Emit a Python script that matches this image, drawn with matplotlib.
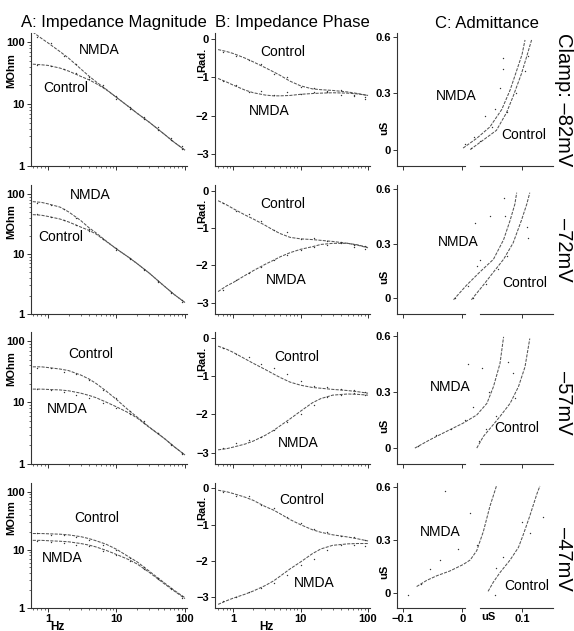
import matplotlib
matplotlib.use("Agg")
import matplotlib.pyplot as plt
import matplotlib.transforms as mtransforms
from matplotlib.ticker import LogLocator, NullFormatter

plt.rcParams["font.family"] = ["Liberation Sans", "DejaVu Sans"]

# frequency grids (Hz)
freq = [0.6, 0.8, 1, 1.5, 2, 3, 4, 5, 7, 10, 15, 20, 30, 50, 70, 100]
freq_pts = [0.7, 1.1, 1.7, 2.6, 4, 6.3, 10, 16, 25, 40, 63, 90]

clamp_labels = ["Clamp: \u201382mV", "\u201372mV", "\u201357mV", "\u201347mV"]

# A: impedance magnitude (MOhm), fitted curves
mag_nmda_82 = [145, 115, 97, 70, 55, 37, 28, 23, 17.4, 12.8, 9.1, 7.1, 5.1, 3.25, 2.4, 1.8]
mag_ctrl_82 = [44, 43, 42, 38, 34, 28, 24.5, 21.5, 17.2, 12.8, 9.1, 7.1, 5.1, 3.25, 2.4, 1.8]
mag_nmda_72 = [74, 72, 68, 60, 50, 36, 27, 22.5, 16.5, 12.1, 8.8, 6.9, 4.8, 2.9, 2.1, 1.55]
mag_ctrl_72 = [45, 44, 42, 38, 34, 28, 24.5, 21.5, 16.3, 12.1, 8.8, 6.9, 4.8, 2.9, 2.1, 1.55]
mag_nmda_57 = [16.5, 16.5, 16.3, 16, 15.5, 14.2, 13, 12, 10.2, 8.5, 6.8, 5.6, 3.95, 2.6, 1.9, 1.4]
mag_ctrl_57 = [38, 38, 37, 35, 33, 28, 24, 20.5, 15.5, 11.2, 7.5, 5.8, 4.0, 2.6, 1.9, 1.4]
mag_nmda_47 = [14.5, 14.5, 14.3, 14, 13.7, 12.8, 12, 11.2, 9.8, 8.3, 6.8, 5.7, 4.1, 2.6, 1.95, 1.45]
mag_ctrl_47 = [19, 19, 18.8, 18.5, 18, 16.8, 15.5, 14.3, 12.5, 10.2, 7.6, 6.2, 4.3, 2.7, 2.0, 1.5]

# A: measured points
mag_nmda_82_pts = [120, 95, 60, 45, 27, 20.5, 12.2, 9.0, 5.7, 4.2, 2.6, 2.1]
mag_ctrl_82_pts = [43, 41, 37, 32, 25, 18.6, 13.3, 8.3, 6.2, 3.8, 2.8, 1.9]
mag_nmda_72_pts = [70, 66, 55, 40, 26, 17.5, 12.5, 8.2, 5.6, 3.6, 2.3, 1.7]
mag_ctrl_72_pts = [46, 41, 36, 30, 24, 18, 11.6, 8.6, 5.3, 3.4, 2.2, 1.6]
mag_nmda_57_pts = [16.3, 15.8, 15.0, 13.4, 11.8, 9.8, 8.2, 6.6, 4.6, 3.2, 2.0, 1.45]
mag_ctrl_57_pts = [37, 36, 31, 29, 23, 16, 11.8, 7.2, 5.0, 3.2, 2.1, 1.5]
mag_nmda_47_pts = [14.2, 13.8, 13.2, 12.2, 11.4, 9.6, 8.0, 6.3, 4.7, 3.1, 2.1, 1.5]
mag_ctrl_47_pts = [19.5, 18.2, 17.6, 16.5, 14.8, 12.3, 9.8, 7.3, 5.1, 3.3, 2.2, 1.6]

# B: impedance phase (rad), fitted curves
ph_nmda_82 = [-1.03, -1.12, -1.2, -1.33, -1.4, -1.46, -1.48, -1.48, -1.47, -1.44, -1.42, -1.41, -1.40, -1.41, -1.43, -1.47]
ph_ctrl_82 = [-0.28, -0.33, -0.38, -0.5, -0.6, -0.75, -0.86, -0.95, -1.1, -1.22, -1.3, -1.32, -1.34, -1.38, -1.42, -1.47]
ph_nmda_72 = [-2.7, -2.55, -2.46, -2.27, -2.14, -1.97, -1.86, -1.77, -1.66, -1.57, -1.5, -1.44, -1.41, -1.41, -1.45, -1.52]
ph_ctrl_72 = [-0.27, -0.38, -0.48, -0.65, -0.76, -0.93, -1.06, -1.15, -1.25, -1.29, -1.31, -1.33, -1.36, -1.41, -1.46, -1.53]
ph_nmda_57 = [-2.93, -2.9, -2.86, -2.78, -2.7, -2.55, -2.42, -2.3, -2.12, -1.92, -1.7, -1.59, -1.5, -1.47, -1.48, -1.5]
ph_ctrl_57 = [-0.22, -0.3, -0.38, -0.55, -0.67, -0.83, -0.95, -1.04, -1.16, -1.24, -1.3, -1.32, -1.35, -1.38, -1.41, -1.45]
ph_nmda_47 = [-3.2, -3.1, -3.03, -2.92, -2.83, -2.68, -2.55, -2.42, -2.22, -2.03, -1.8, -1.67, -1.57, -1.53, -1.52, -1.52]
ph_ctrl_47 = [-0.05, -0.09, -0.14, -0.24, -0.33, -0.5, -0.6, -0.7, -0.86, -1.0, -1.14, -1.21, -1.28, -1.34, -1.39, -1.45]

# B: measured points
ph_nmda_82_pts = [-1.1, -1.2, -1.38, -1.35, -1.45, -1.38, -1.43, -1.38, -1.36, -1.45, -1.48, -1.55]
ph_ctrl_82_pts = [-0.35, -0.45, -0.55, -0.65, -0.92, -1.0, -1.25, -1.27, -1.38, -1.33, -1.45, -1.5]
ph_nmda_72_pts = [-2.65, -2.4, -2.2, -2.05, -1.85, -1.72, -1.6, -1.52, -1.46, -1.38, -1.5, -1.48]
ph_ctrl_72_pts = [-0.33, -0.55, -0.62, -0.82, -1.05, -1.1, -1.3, -1.28, -1.35, -1.4, -1.45, -1.55]
ph_nmda_57_pts = [-2.88, -2.75, -2.68, -2.6, -2.4, -2.2, -2.0, -1.75, -1.55, -1.5, -1.45, -1.42]
ph_ctrl_57_pts = [-0.28, -0.42, -0.5, -0.68, -0.8, -0.95, -1.12, -1.25, -1.3, -1.33, -1.37, -1.5]
ph_nmda_47_pts = [-3.1, -3.0, -2.85, -2.75, -2.6, -2.4, -2.1, -1.95, -1.7, -1.55, -1.55, -1.6]
ph_ctrl_47_pts = [-0.1, -0.2, -0.22, -0.45, -0.55, -0.8, -0.95, -1.12, -1.2, -1.3, -1.35, -1.42]

# C: admittance (uS), conductance G and susceptance B along fitted curves
adm_nmda_82_g = [0.001, 0.024, 0.046, 0.066, 0.080, 0.091, 0.100, 0.105]
adm_nmda_82_b = [0.01, 0.062, 0.122, 0.215, 0.318, 0.421, 0.506, 0.583]
adm_ctrl_82_g = [0.013, 0.035, 0.057, 0.074, 0.085, 0.099, 0.108, 0.116]
adm_ctrl_82_b = [0.002, 0.053, 0.104, 0.198, 0.284, 0.404, 0.497, 0.583]
adm_nmda_72_g = [-0.015, 0.007, 0.029, 0.052, 0.069, 0.080, 0.088, 0.091]
adm_nmda_72_b = [-0.007, 0.073, 0.144, 0.214, 0.321, 0.427, 0.516, 0.578]
adm_ctrl_72_g = [0.015, 0.035, 0.052, 0.069, 0.085, 0.099, 0.108, 0.113]
adm_ctrl_72_b = [-0.007, 0.073, 0.144, 0.214, 0.303, 0.427, 0.516, 0.578]
adm_nmda_57_g = [-0.080, -0.055, -0.027, 0.001, 0.024, 0.041, 0.052, 0.063, 0.069]
adm_nmda_57_b = [0.0, 0.044, 0.089, 0.133, 0.177, 0.239, 0.328, 0.452, 0.594]
adm_ctrl_57_g = [0.024, 0.035, 0.049, 0.063, 0.080, 0.094, 0.105, 0.113]
adm_ctrl_57_b = [0.0, 0.062, 0.115, 0.169, 0.239, 0.328, 0.434, 0.585]
adm_nmda_47_g = [-0.077, -0.060, -0.043, -0.021, 0.001, 0.013, 0.024, 0.035, 0.046, 0.057]
adm_nmda_47_b = [0.036, 0.071, 0.097, 0.124, 0.160, 0.186, 0.239, 0.346, 0.488, 0.603]
adm_ctrl_47_g = [0.043, 0.052, 0.063, 0.080, 0.094, 0.102, 0.113, 0.125, 0.130]
adm_ctrl_47_b = [0.009, 0.062, 0.115, 0.186, 0.257, 0.328, 0.434, 0.559, 0.603]

# C: measured points
adm_nmda_82_pts_g = [0.005, 0.02, 0.038, 0.055, 0.063, 0.068, 0.068]
adm_nmda_82_pts_b = [0.03, 0.07, 0.18, 0.215, 0.33, 0.43, 0.49]
adm_ctrl_82_pts_g = [0.015, 0.03, 0.05, 0.075, 0.09, 0.105, 0.11]
adm_ctrl_82_pts_b = [0.01, 0.05, 0.12, 0.2, 0.3, 0.42, 0.5]
adm_nmda_72_pts_g = [-0.012, 0.01, 0.024, 0.029, 0.021, 0.046, 0.069]
adm_nmda_72_pts_b = [0.0, 0.07, 0.18, 0.21, 0.41, 0.45, 0.55]
adm_ctrl_72_pts_g = [0.017, 0.04, 0.06, 0.075, 0.071, 0.108, 0.11]
adm_ctrl_72_pts_b = [0.0, 0.08, 0.16, 0.23, 0.45, 0.39, 0.33]
adm_nmda_57_pts_g = [-0.075, -0.045, -0.02, 0.005, 0.018, 0.009, 0.032, 0.045]
adm_nmda_57_pts_b = [0.01, 0.07, 0.1, 0.15, 0.22, 0.45, 0.43, 0.3]
adm_ctrl_57_pts_g = [0.027, 0.04, 0.057, 0.088, 0.085, 0.077]
adm_ctrl_57_pts_b = [0.04, 0.1, 0.17, 0.27, 0.4, 0.46]
adm_nmda_47_pts_g = [-0.092, -0.07, -0.055, -0.038, -0.008, 0.024, 0.013, -0.029]
adm_nmda_47_pts_b = [-0.01, 0.05, 0.133, 0.186, 0.25, 0.27, 0.45, 0.576]
adm_ctrl_47_pts_g = [0.055, 0.057, 0.068, 0.113, 0.1, 0.135]
adm_ctrl_47_pts_b = [-0.01, 0.14, 0.2, 0.34, 0.4, 0.43]

mag_rows = [
    (mag_nmda_82, mag_ctrl_82, mag_nmda_82_pts, mag_ctrl_82_pts),
    (mag_nmda_72, mag_ctrl_72, mag_nmda_72_pts, mag_ctrl_72_pts),
    (mag_nmda_57, mag_ctrl_57, mag_nmda_57_pts, mag_ctrl_57_pts),
    (mag_nmda_47, mag_ctrl_47, mag_nmda_47_pts, mag_ctrl_47_pts),
]
ph_rows = [
    (ph_nmda_82, ph_ctrl_82, ph_nmda_82_pts, ph_ctrl_82_pts),
    (ph_nmda_72, ph_ctrl_72, ph_nmda_72_pts, ph_ctrl_72_pts),
    (ph_nmda_57, ph_ctrl_57, ph_nmda_57_pts, ph_ctrl_57_pts),
    (ph_nmda_47, ph_ctrl_47, ph_nmda_47_pts, ph_ctrl_47_pts),
]
adm_rows = [
    ((adm_nmda_82_g, adm_nmda_82_b), (adm_ctrl_82_g, adm_ctrl_82_b),
     (adm_nmda_82_pts_g, adm_nmda_82_pts_b), (adm_ctrl_82_pts_g, adm_ctrl_82_pts_b)),
    ((adm_nmda_72_g, adm_nmda_72_b), (adm_ctrl_72_g, adm_ctrl_72_b),
     (adm_nmda_72_pts_g, adm_nmda_72_pts_b), (adm_ctrl_72_pts_g, adm_ctrl_72_pts_b)),
    ((adm_nmda_57_g, adm_nmda_57_b), (adm_ctrl_57_g, adm_ctrl_57_b),
     (adm_nmda_57_pts_g, adm_nmda_57_pts_b), (adm_ctrl_57_pts_g, adm_ctrl_57_pts_b)),
    ((adm_nmda_47_g, adm_nmda_47_b), (adm_ctrl_47_g, adm_ctrl_47_b),
     (adm_nmda_47_pts_g, adm_nmda_47_pts_b), (adm_ctrl_47_pts_g, adm_ctrl_47_pts_b)),
]

# label placement (axes fractions) per row
txt_a = [[(0.44, 0.87, "NMDA"), (0.22, 0.59, "Control")],
         [(0.38, 0.92, "NMDA"), (0.19, 0.60, "Control")],
         [(0.38, 0.83, "Control"), (0.23, 0.42, "NMDA")],
         [(0.42, 0.72, "Control"), (0.20, 0.40, "NMDA")]]
txt_b = [[(0.44, 0.86, "Control"), (0.35, 0.41, "NMDA")],
         [(0.44, 0.85, "Control"), (0.46, 0.26, "NMDA")],
         [(0.53, 0.81, "Control"), (0.54, 0.16, "NMDA")],
         [(0.56, 0.86, "Control"), (0.64, 0.20, "NMDA")]]
txt_c = [[(0.38, 0.53, "NMDA"), (0.81, 0.23, "Control")],
         [(0.39, 0.56, "NMDA"), (0.82, 0.24, "Control")],
         [(0.34, 0.58, "NMDA"), (0.77, 0.27, "Control")],
         [(0.28, 0.61, "NMDA"), (0.83, 0.18, "Control")]]

W, H = 574, 631
row_px = [(33, 166), (185, 314), (332, 464), (483, 608)]
col_px = [(31, 187), (215, 370), (397, 553)]
row_label_y = [100, 250, 403, 559]

LINE = dict(color="#555555", lw=0.75, ls=(0, (3, 1.2)))
DOTS = dict(ls="none", marker="o", ms=1.0, mew=0, color="#333333")
LBL = dict(fontsize=10, ha="center", va="center")

fig = plt.figure(figsize=(W / 100, H / 100), dpi=100)


def make_axes(col, row):
    x0, x1 = col_px[col]
    y0, y1 = row_px[row]
    return fig.add_axes([x0 / W, 1 - y1 / H, (x1 - x0) / W, (y1 - y0) / H])


def style(ax):
    for s in ("top", "right"):
        ax.spines[s].set_visible(False)
    for s in ("left", "bottom"):
        ax.spines[s].set_linewidth(0.8)
        ax.spines[s].set_color("#333333")
    ax.tick_params(which="major", direction="out", length=3, width=0.7,
                   labelsize=8, pad=1.5, color="#333333")
    ax.tick_params(which="minor", direction="out", length=1.5, width=0.5,
                   color="#333333")


def log_freq_axis(ax, xlim, bottom, hz_x):
    ax.set_xscale("log")
    ax.set_xlim(*xlim)
    ax.xaxis.set_minor_locator(LogLocator(base=10, subs=range(2, 10)))
    ax.xaxis.set_minor_formatter(NullFormatter())
    if bottom:
        ax.set_xticks([1, 10, 100], ["1", "10", "100"], fontweight="bold")
        ax.set_xlabel("Hz", fontsize=8.5, fontweight="bold")
        ax.xaxis.set_label_coords(hz_x, -0.1)
    else:
        ax.set_xticks([1, 10, 100])
        ax.tick_params(axis="x", labelbottom=False)


for r in range(4):
    # A: magnitude
    ax = make_axes(0, r)
    style(ax)
    nm, ct, nm_p, ct_p = mag_rows[r]
    ax.plot(freq, nm, **LINE)
    ax.plot(freq, ct, **LINE)
    ax.plot(freq_pts, nm_p, **DOTS)
    ax.plot(freq_pts, ct_p, **DOTS)
    ax.set_yscale("log")
    ax.set_ylim(1, 140)
    ax.set_yticks([1, 10, 100], ["1", "10", "100"], fontweight="bold")
    ax.yaxis.set_minor_formatter(NullFormatter())
    log_freq_axis(ax, (0.565, 107), r == 3, 0.17)
    ax.set_ylabel("MOhm", fontsize=8, fontweight="bold", labelpad=0)
    ax.yaxis.set_label_coords(-0.095, 0.72)
    for x, y, s in txt_a[r]:
        ax.text(x, y, s, transform=ax.transAxes, **LBL)

    # B: phase
    ax = make_axes(1, r)
    style(ax)
    nm, ct, nm_p, ct_p = ph_rows[r]
    ax.plot(freq, nm, **LINE)
    ax.plot(freq, ct, **LINE)
    ax.plot(freq_pts, nm_p, **DOTS)
    ax.plot(freq_pts, ct_p, **DOTS)
    ax.set_ylim(-3.3, 0.15)
    ax.set_yticks([0, -1, -2, -3], ["0", "\u22121", "\u22122", "\u22123"], fontweight="bold")
    log_freq_axis(ax, (0.54, 107), r == 3, 0.33)
    ax.set_ylabel("Rad.", fontsize=8, fontweight="bold")
    ax.yaxis.set_label_coords(-0.05, 0.80)
    for x, y, s in txt_b[r]:
        ax.text(x, y, s, transform=ax.transAxes, **LBL)

    # C: admittance
    ax = make_axes(2, r)
    style(ax)
    (ng, nb), (cg, cb), (ngp, nbp), (cgp, cbp) = adm_rows[r]
    ax.plot(ng, nb, **LINE)
    ax.plot(cg, cb, **LINE)
    ax.plot(ngp, nbp, **DOTS)
    ax.plot(cgp, cbp, **DOTS)
    ax.set_xlim(-0.11, 0.152)
    ax.set_ylim(-0.085, 0.62)
    ax.set_yticks([0, 0.3, 0.6], ["0", "0.3", "0.6"], fontweight="bold")
    ax.spines["bottom"].set_visible(False)
    ylo = ax.get_ylim()[0]
    for seg in ((-0.11, 0.004), (0.029, 0.152)):
        ax.plot(seg, [ylo, ylo], color="#333333", lw=0.8, clip_on=False)
    if r == 3:
        ax.set_xticks([-0.1, 0, 0.1], ["\u22120.1", "0", "0.1"], fontweight="bold")
        trans = mtransforms.blended_transform_factory(ax.transData, ax.transAxes)
        ax.text(0.043, -0.036, "uS", transform=trans, ha="center", va="top",
                fontsize=8, fontweight="bold")
    else:
        ax.set_xticks([-0.1, 0, 0.1])
        ax.tick_params(axis="x", labelbottom=False)
    ax.set_ylabel("uS", fontsize=8, fontweight="bold")
    ax.yaxis.set_label_coords(-0.05, 0.29)
    for x, y, s in txt_c[r]:
        ax.text(x, y, s, transform=ax.transAxes, **LBL)

    fig.text(563 / W, 1 - row_label_y[r] / H, clamp_labels[r], rotation=-90,
             ha="center", va="center", fontsize=14.5)

fig.text(21 / W, 1 - 23 / H, "A: Impedance Magnitude", fontsize=12, va="center")
fig.text(215 / W, 1 - 23 / H, "B: Impedance Phase", fontsize=12, va="center")
fig.text(435 / W, 1 - 23 / H, "C: Admittance", fontsize=12, va="center")

fig.savefig("out.png", dpi=100, facecolor="white")
